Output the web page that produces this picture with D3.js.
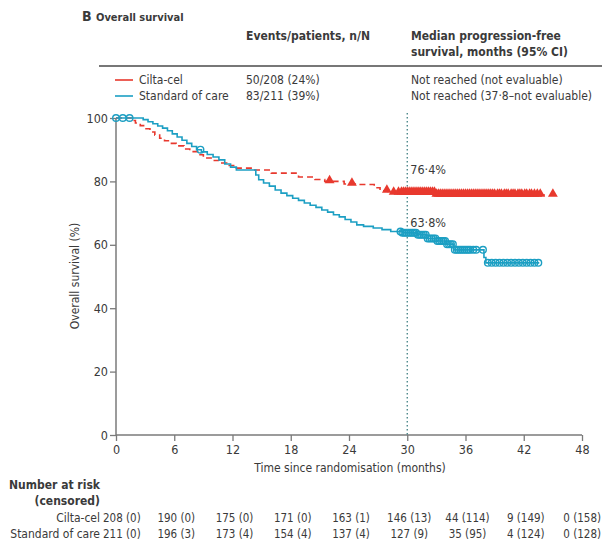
<!DOCTYPE html>
<html>
<head>
<meta charset="utf-8">
<script src="https://cdn.jsdelivr.net/npm/d3@7"></script>
<style>
  body { margin: 0; background: #fff; }
  svg text { font-family: "Liberation Sans Narrow", "DejaVu Sans Condensed", sans-serif; fill: #3a3a3a; }
</style>
</head>
<body>
<svg id="km" width="602" height="540"></svg>
<script>

// Cilta-cel step curve (months, survival %)
let ciltaTime = [0, 1.6, 2.0, 2.5, 3.0, 3.5, 4.0, 4.5, 5.0, 5.6, 6.2, 7.0, 7.6, 8.4, 9.0, 9.8, 10.6, 11.4, 12.4, 14.0, 16.0, 18.8, 20.5, 21.5, 23.5, 25.0, 26.6, 27.2, 28.0, 33.0, 44.6]
let ciltaSurv = [100, 99.2, 98.4, 97.6, 96.6, 95.6, 94.6, 93.6, 92.8, 92.0, 91.2, 90.2, 89.4, 88.4, 87.4, 86.6, 85.8, 85.0, 84.2, 83.6, 82.6, 81.4, 80.6, 80.0, 79.2, 79.0, 78.0, 77.0, 76.4, 75.7, 75.7]
let ciltaCens = [22.0, 24.3, 27.9, 28.6, 29.1, 29.4, 29.6, 29.8, 30.0, 30.2, 30.4, 30.6, 30.8, 31.0, 31.2, 31.4, 31.6, 31.8, 32.0, 32.2, 32.4, 32.6, 32.8, 33.0,
    33.2, 33.4, 33.6, 33.8, 34.0, 34.2, 34.4, 34.6, 34.8, 35.0, 35.2, 35.4, 35.6, 35.8, 36.0, 36.2, 36.4, 36.6, 36.8, 37.0, 37.2, 37.4, 37.6, 37.8, 38.0,
    38.2, 38.4, 38.6, 38.8, 39.0, 39.3, 39.5, 39.7, 40.0, 40.2, 40.4, 40.7, 40.9, 41.1, 41.4, 41.6, 41.8, 42.1, 42.3, 42.6, 42.8, 43.1, 43.4, 43.7, 45.0]

// Standard of care step curve
let socTime = [0, 2.8, 3.3, 3.8, 4.3, 4.8, 5.3, 5.8, 6.3, 6.8, 7.3, 7.8, 8.3, 8.8, 9.4, 10.0, 10.6, 11.2, 11.8, 12.4, 14.4, 14.7, 15.2, 15.8, 16.4, 17.0, 17.6, 18.2, 18.8, 19.4, 20.0, 20.6, 21.2, 21.8, 22.4, 23.0, 23.6, 24.2, 24.8, 25.5, 26.5, 27.4, 28.3, 29.5, 31.0, 32.0, 33.0, 34.0, 34.8, 37.9, 38.1, 43.6]
let socSurv = [100, 99.5, 98.8, 98.2, 97.5, 96.8, 96.0, 95.0, 94.0, 93.0, 92.0, 91.0, 90.0, 89.3, 88.5, 87.7, 86.8, 85.5, 84.5, 83.6, 82.0, 80.5, 79.5, 78.5, 77.3, 76.3, 75.5, 74.7, 74.0, 73.2, 72.5, 71.8, 71.0, 70.3, 69.5, 68.8, 68.0, 67.2, 66.3, 65.8, 65.3, 64.8, 64.2, 63.8, 63.2, 62.0, 61.2, 60.2, 58.4, 56.0, 54.3, 54.3]
let socCens = [0.0, 0.7, 1.4, 8.7, 29.3, 29.5, 29.7, 29.9, 30.1, 30.3, 30.5, 30.7, 30.9, 31.1, 31.3, 31.5, 31.7, 31.9, 32.1, 32.3, 32.5, 32.7, 32.9, 33.1, 33.3, 33.5, 33.7, 33.9, 34.1, 34.3, 34.5, 34.7, 34.9, 35.1, 35.3, 35.5, 35.7, 35.9, 36.1, 36.3, 36.5, 36.8, 37.1, 37.8, 38.3, 38.7, 39.1, 39.5, 39.9, 40.3, 40.7, 41.1, 41.5, 41.9, 42.3, 42.7, 43.1, 43.5]

let xTicks = [0, 6, 12, 18, 24, 30, 36, 42, 48]
let yTicks = [0, 20, 40, 60, 80, 100]

let riskGroups = ["Cilta-cel", "Standard of care"]
let riskCilta = ["208 (0)", "190 (0)", "175 (0)", "171 (0)", "163 (1)", "146 (13)", "44 (114)", "9 (149)", "0 (158)"]
let riskSoc = ["211 (0)", "196 (3)", "173 (4)", "154 (4)", "137 (4)", "127 (9)", "35 (95)", "4 (124)", "0 (128)"]

let legendNames = ["Cilta-cel", "Standard of care"]
let legendEvents = ["50/208  (24%)", "83/211 (39%)"]
let legendMedian = ["Not reached (not evaluable)", "Not reached (37·8–not evaluable)"]

const RED = "#e8392e", BLUE = "#1c9fc3", AXIS = "#7a7a7a"

let svg = d3.select("#km")

let x = d3.scaleLinear().domain([0, 48]).range([116, 582])
let y = d3.scaleLinear().domain([0, 100]).range([435, 118])

// header
svg.append("text").attr("x", 82).attr("y", 21).style("font-size", "14px").style("font-weight", "bold").text("B")
svg.append("text").attr("x", 96).attr("y", 21).style("font-size", "11px").style("font-weight", "bold").text("Overall survival")
svg.append("text").attr("x", 246).attr("y", 40).style("font-size", "12px").style("font-weight", "bold").text("Events/patients, n/N")
svg.append("text").attr("x", 411).attr("y", 40).style("font-size", "12px").style("font-weight", "bold").text("Median progression-free")
svg.append("text").attr("x", 411).attr("y", 56).style("font-size", "12px").style("font-weight", "bold").text("survival, months (95% CI)")
svg.append("line").attr("x1", 99).attr("x2", 602).attr("y1", 66).attr("y2", 66)
    .attr("stroke", "#777").attr("stroke-width", 2)

let leg = svg.append("g")
legendNames.forEach((name, i) => {
    let yy = 84 + i * 16
    leg.append("line").attr("x1", 115).attr("x2", 133).attr("y1", yy - 4).attr("y2", yy - 4)
        .attr("stroke", i == 0 ? RED : BLUE).attr("stroke-width", 1.6)
    leg.append("text").attr("x", 139).attr("y", yy).style("font-size", "12px").text(name)
    leg.append("text").attr("x", 246).attr("y", yy).style("font-size", "12px").text(legendEvents[i])
    leg.append("text").attr("x", 411).attr("y", yy).style("font-size", "12px").text(legendMedian[i])
})

// axes
let yAxis = d3.axisLeft(y).tickValues(yTicks).tickSize(6).tickPadding(2)
let xAxis = d3.axisBottom(x).tickValues(xTicks).tickSize(6).tickPadding(4)

let gy = svg.append("g").attr("transform", "translate(116,0)").call(yAxis)
let gx = svg.append("g").attr("transform", "translate(0,435)").call(xAxis)
;[gx, gy].forEach(g => {
    g.select(".domain").attr("stroke", AXIS).attr("stroke-width", 1.5)
    g.selectAll(".tick line").attr("stroke", AXIS).attr("stroke-width", 1.3)
    g.selectAll(".tick text").style("font-size", "12.5px").attr("fill", "#3a3a3a")
})
gy.select(".domain").attr("d", "M0,118V435")
gx.select(".domain").attr("d", "M116,0H582")

svg.append("text").attr("transform", "translate(79,276) rotate(-90)").attr("text-anchor", "middle")
    .style("font-size", "12px").text("Overall survival (%)")
svg.append("text").attr("x", 350).attr("y", 472).attr("text-anchor", "middle")
    .style("font-size", "12px").text("Time since randomisation (months)")

// 30-month reference line
svg.append("line").attr("x1", x(30)).attr("x2", x(30)).attr("y1", 113).attr("y2", 435)
    .attr("stroke", "#3f7f82").attr("stroke-width", 1.3).attr("stroke-dasharray", "1.5,2.5")

// curves
let line = d3.line().x(d => x(d[0])).y(d => y(d[1])).curve(d3.curveStepAfter)
let ciltaPts = d3.zip(ciltaTime, ciltaSurv)
let socPts = d3.zip(socTime, socSurv)

svg.append("path").attr("d", line(ciltaPts)).attr("fill", "none")
    .attr("stroke", RED).attr("stroke-width", 1.6).attr("stroke-dasharray", "6,4")
svg.append("path").attr("d", line(socPts)).attr("fill", "none")
    .attr("stroke", BLUE).attr("stroke-width", 1.6)

function survAt(times, surv, t) {
    let i = d3.bisectRight(times, t) - 1
    return surv[Math.max(0, i)]
}

let tri = d3.symbol().type(d3.symbolTriangle).size(42)
svg.append("g").selectAll("path").data(ciltaCens).enter().append("path")
    .attr("d", tri)
    .attr("transform", d => "translate(" + x(d) + "," + (y(survAt(ciltaTime, ciltaSurv, d)) - 1) + ")")
    .attr("fill", RED)

svg.append("g").selectAll("circle").data(socCens).enter().append("circle")
    .attr("cx", d => x(d))
    .attr("cy", d => y(survAt(socTime, socSurv, d)))
    .attr("r", 3.3)
    .attr("fill", "none")
    .attr("stroke", BLUE).attr("stroke-width", 1.4)

svg.append("text").attr("x", x(30) + 3).attr("y", 174).style("font-size", "12.5px").text("76·4%")
svg.append("text").attr("x", x(30) + 3).attr("y", 227).style("font-size", "12.5px").text("63·8%")

// number at risk table
svg.append("text").attr("x", 100).attr("y", 489).attr("text-anchor", "end")
    .style("font-size", "12px").style("font-weight", "bold").text("Number at risk")
svg.append("text").attr("x", 100).attr("y", 505).attr("text-anchor", "end")
    .style("font-size", "12px").style("font-weight", "bold").text("(censored)")

;[riskCilta, riskSoc].forEach((row, r) => {
    let yy = 522 + r * 16
    svg.append("text").attr("x", 100).attr("y", yy).attr("text-anchor", "end")
        .style("font-size", "12px").text(riskGroups[r])
    svg.append("g").selectAll("text").data(row).enter().append("text")
        .attr("x", (d, i) => i == 0 ? 103 : (i == row.length - 1 ? 601 : x(xTicks[i]) + 2))
        .attr("y", yy)
        .attr("text-anchor", (d, i) => i == 0 ? "start" : (i == row.length - 1 ? "end" : "middle"))
        .style("font-size", "11.5px")
        .text(d => d)
})

</script>
</body>
</html>
